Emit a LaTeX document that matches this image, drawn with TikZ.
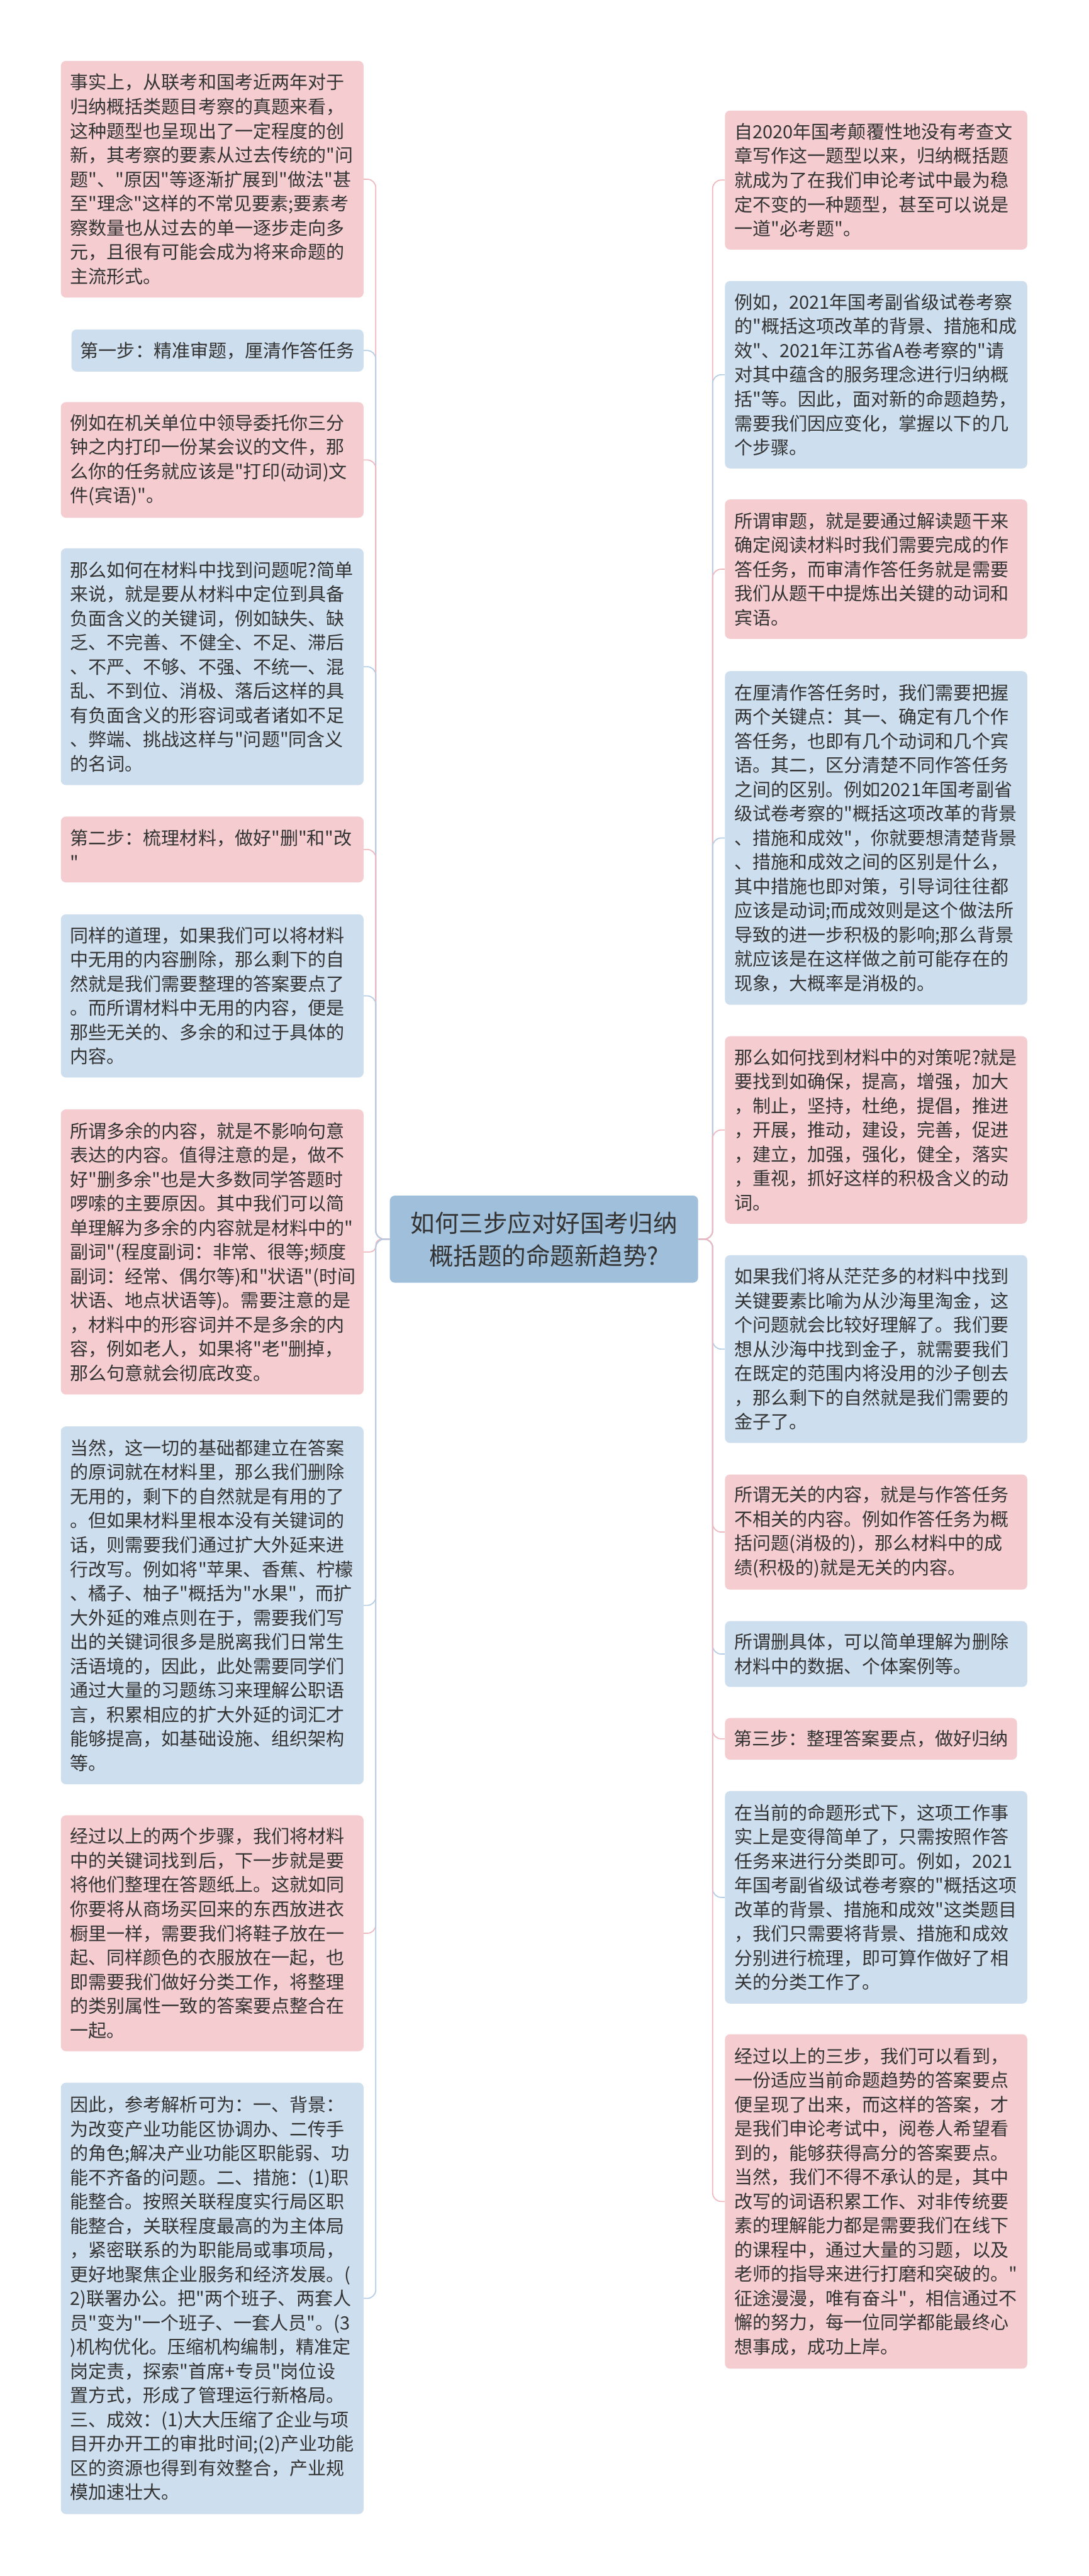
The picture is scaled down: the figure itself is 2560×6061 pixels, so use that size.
\documentclass[tikz,border=0pt]{standalone}
\usepackage{fontspec}
\newfontfamily\cjkfont{Noto Sans CJK SC}
\definecolor{pinkfill}{HTML}{F5CDD1}
\definecolor{bluefill}{HTML}{CDDEEE}
\definecolor{rootfill}{HTML}{9FBFDB}
\definecolor{pinkline}{HTML}{EFB8BE}
\definecolor{blueline}{HTML}{B4CDE6}
\definecolor{txt}{HTML}{333333}
\tikzset{
  card/.style={rectangle, rounded corners=12pt, anchor=north west, inner xsep=22pt, inner ysep=4pt,
    align=left, text=txt, font=\cjkfont\fontsize{43}{57}\selectfont},
  pinkcard/.style={card, fill=pinkfill},
  bluecard/.style={card, fill=bluefill},
  conn/.style={line width=2.5pt, rounded corners=20pt},
  pinkconn/.style={conn, draw=pinkline},
  blueconn/.style={conn, draw=blueline},
  rootbox/.style={rectangle, rounded corners=12pt, fill=rootfill, text=txt, inner sep=0pt,
    align=center, font=\cjkfont\fontsize{57}{77}\selectfont},
}
\begin{document}
\begin{tikzpicture}[x=1pt,y=-1pt]
\useasboundingbox (0,0) rectangle (2560,6061);
\fill[white] (0,0) rectangle (2560,6061);

% root
\node[rootbox, minimum width=725pt, minimum height=205pt] (root) at (1279.5,2915.5)
  {如何三步应对好国考归纳\\概括题的命题新趋势?};

% left column
\node[pinkcard, text width=668pt, minimum height=557pt] (L1) at (143,143) {事实上，从联考和国考近两年对于\\归纳概括类题目考察的真题来看，\\这种题型也呈现出了一定程度的创\\新，其考察的要素从过去传统的"问\\题"、"原因"等逐渐扩展到"做法"甚\\至"理念"这样的不常见要素;要素考\\察数量也从过去的单一逐步走向多\\元，且很有可能会成为将来命题的\\主流形式。};
\node[bluecard, inner xsep=21pt, text width=645pt, minimum height=99pt] (L2) at (168,775) {第一步：精准审题，厘清作答任务};
\node[pinkcard, text width=668pt, minimum height=272pt] (L3) at (143,946) {例如在机关单位中领导委托你三分\\钟之内打印一份某会议的文件，那\\么你的任务就应该是"打印(动词)文\\件(宾语)"。};
\node[bluecard, text width=668pt, minimum height=557pt] (L4) at (143,1290) {那么如何在材料中找到问题呢?简单\\来说，就是要从材料中定位到具备\\负面含义的关键词，例如缺失、缺\\乏、不完善、不健全、不足、滞后\\、不严、不够、不强、不统一、混\\乱、不到位、消极、落后这样的具\\有负面含义的形容词或者诸如不足\\、弊端、挑战这样与"问题"同含义\\的名词。};
\node[pinkcard, text width=668pt, minimum height=155pt] (L5) at (143,1921) {第二步：梳理材料，做好"删"和"改\\"};
\node[bluecard, text width=668pt, minimum height=384pt] (L6) at (143,2151) {同样的道理，如果我们可以将材料\\中无用的内容删除，那么剩下的自\\然就是我们需要整理的答案要点了\\。而所谓材料中无用的内容，便是\\那些无关的、多余的和过于具体的\\内容。};
\node[pinkcard, text width=668pt, minimum height=671pt] (L7) at (143,2610) {所谓多余的内容，就是不影响句意\\表达的内容。值得注意的是，做不\\好"删多余"也是大多数同学答题时\\啰嗦的主要原因。其中我们可以简\\单理解为多余的内容就是材料中的"\\副词"(程度副词：非常、很等;频度\\副词：经常、偶尔等)和"状语"(时间\\状语、地点状语等)。需要注意的是\\，材料中的形容词并不是多余的内\\容，例如老人，如果将"老"删掉，\\那么句意就会彻底改变。};
\node[bluecard, text width=668pt, minimum height=842pt] (L8) at (143,3356) {当然，这一切的基础都建立在答案\\的原词就在材料里，那么我们删除\\无用的，剩下的自然就是有用的了\\。但如果材料里根本没有关键词的\\话，则需要我们通过扩大外延来进\\行改写。例如将"苹果、香蕉、柠檬\\、橘子、柚子"概括为"水果"，而扩\\大外延的难点则在于，需要我们写\\出的关键词很多是脱离我们日常生\\活语境的，因此，此处需要同学们\\通过大量的习题练习来理解公职语\\言，积累相应的扩大外延的词汇才\\能够提高，如基础设施、组织架构\\等。};
\node[pinkcard, text width=668pt, minimum height=555pt] (L9) at (143,4271) {经过以上的两个步骤，我们将材料\\中的关键词找到后，下一步就是要\\将他们整理在答题纸上。这就如同\\你要将从商场买回来的东西放进衣\\橱里一样，需要我们将鞋子放在一\\起、同样颜色的衣服放在一起，也\\即需要我们做好分类工作，将整理\\的类别属性一致的答案要点整合在\\一起。};
\node[bluecard, text width=668pt, minimum height=1015pt] (L10) at (143,4900) {因此，参考解析可为：一、背景：\\为改变产业功能区协调办、二传手\\的角色;解决产业功能区职能弱、功\\能不齐备的问题。二、措施：(1)职\\能整合。按照关联程度实行局区职\\能整合，关联程度最高的为主体局\\，紧密联系的为职能局或事项局，\\更好地聚焦企业服务和经济发展。(\\2)联署办公。把"两个班子、两套人\\员"变为"一个班子、一套人员"。(3\\)机构优化。压缩机构编制，精准定\\岗定责，探索"首席+专员"岗位设\\置方式，形成了管理运行新格局。\\三、成效：(1)大大压缩了企业与项\\目开办开工的审批时间;(2)产业功能\\区的资源也得到有效整合，产业规\\模加速壮大。};

% right column
\node[pinkcard, text width=667pt, minimum height=327pt] (R1) at (1705,260) {自2020年国考颠覆性地没有考查文\\章写作这一题型以来，归纳概括题\\就成为了在我们申论考试中最为稳\\定不变的一种题型，甚至可以说是\\一道"必考题"。};
\node[bluecard, text width=667pt, minimum height=441pt] (R2) at (1705,661) {例如，2021年国考副省级试卷考察\\的"概括这项改革的背景、措施和成\\效"、2021年江苏省A卷考察的"请\\对其中蕴含的服务理念进行归纳概\\括"等。因此，面对新的命题趋势，\\需要我们因应变化，掌握以下的几\\个步骤。};
\node[pinkcard, text width=667pt, minimum height=328pt] (R3) at (1705,1175) {所谓审题，就是要通过解读题干来\\确定阅读材料时我们需要完成的作\\答任务，而审清作答任务就是需要\\我们从题干中提炼出关键的动词和\\宾语。};
\node[bluecard, text width=667pt, minimum height=785pt] (R4) at (1705,1579) {在厘清作答任务时，我们需要把握\\两个关键点：其一、确定有几个作\\答任务，也即有几个动词和几个宾\\语。其二，区分清楚不同作答任务\\之间的区别。例如2021年国考副省\\级试卷考察的"概括这项改革的背景\\、措施和成效"，你就要想清楚背景\\、措施和成效之间的区别是什么，\\其中措施也即对策，引导词往往都\\应该是动词;而成效则是这个做法所\\导致的进一步积极的影响;那么背景\\就应该是在这样做之前可能存在的\\现象，大概率是消极的。};
\node[pinkcard, text width=667pt, minimum height=441pt] (R5) at (1705,2438) {那么如何找到材料中的对策呢?就是\\要找到如确保，提高，增强，加大\\，制止，坚持，杜绝，提倡，推进\\，开展，推动，建设，完善，促进\\，建立，加强，强化，健全，落实\\，重视，抓好这样的积极含义的动\\词。};
\node[bluecard, text width=667pt, minimum height=442pt] (R6) at (1705,2953) {如果我们将从茫茫多的材料中找到\\关键要素比喻为从沙海里淘金，这\\个问题就会比较好理解了。我们要\\想从沙海中找到金子，就需要我们\\在既定的范围内将没用的沙子刨去\\，那么剩下的自然就是我们需要的\\金子了。};
\node[pinkcard, text width=667pt, minimum height=271pt] (R7) at (1705,3469) {所谓无关的内容，就是与作答任务\\不相关的内容。例如作答任务为概\\括问题(消极的)，那么材料中的成\\绩(积极的)就是无关的内容。};
\node[bluecard, text width=667pt, minimum height=155pt] (R8) at (1705,3814) {所谓删具体，可以简单理解为删除\\材料中的数据、个体案例等。};
\node[pinkcard, inner xsep=21pt, text width=645pt, minimum height=98pt] (R9) at (1705,4042) {第三步：整理答案要点，做好归纳};
\node[bluecard, text width=667pt, minimum height=500pt] (R10) at (1705,4214) {在当前的命题形式下，这项工作事\\实上是变得简单了，只需按照作答\\任务来进行分类即可。例如，2021\\年国考副省级试卷考察的"概括这项\\改革的背景、措施和成效"这类题目\\，我们只需要将背景、措施和成效\\分别进行梳理，即可算作做好了相\\关的分类工作了。};
\node[pinkcard, text width=667pt, minimum height=787pt] (R11) at (1705,4786) {经过以上的三步，我们可以看到，\\一份适应当前命题趋势的答案要点\\便呈现了出来，而这样的答案，才\\是我们申论考试中，阅卷人希望看\\到的，能够获得高分的答案要点。\\当然，我们不得不承认的是，其中\\改写的词语积累工作、对非传统要\\素的理解能力都是需要我们在线下\\的课程中，通过大量的习题，以及\\老师的指导来进行打磨和突破的。"\\征途漫漫，唯有奋斗"，相信通过不\\懈的努力，每一位同学都能最终心\\想事成，成功上岸。};

% connectors left
\draw[pinkconn] (root.west) -- ++(-33,0) |- (L1.east);
\draw[blueconn] (root.west) -- ++(-33,0) |- (L2.east);
\draw[pinkconn] (root.west) -- ++(-33,0) |- (L3.east);
\draw[blueconn] (root.west) -- ++(-33,0) |- (L4.east);
\draw[pinkconn] (root.west) -- ++(-33,0) |- (L5.east);
\draw[blueconn] (root.west) -- ++(-33,0) |- (L6.east);
\draw[pinkconn, rounded corners=14pt] (root.west) -- ++(-33,0) |- (L7.east);
\draw[blueconn] (root.west) -- ++(-33,0) |- (L8.east);
\draw[pinkconn] (root.west) -- ++(-33,0) |- (L9.east);
\draw[blueconn] (root.west) -- ++(-33,0) |- (L10.east);
% connectors right
\draw[pinkconn] (root.east) -- ++(34,0) |- (R1.west);
\draw[blueconn] (root.east) -- ++(34,0) |- (R2.west);
\draw[pinkconn] (root.east) -- ++(34,0) |- (R3.west);
\draw[blueconn] (root.east) -- ++(34,0) |- (R4.west);
\draw[pinkconn] (root.east) -- ++(34,0) |- (R5.west);
\draw[blueconn] (root.east) -- ++(34,0) |- (R6.west);
\draw[pinkconn] (root.east) -- ++(34,0) |- (R7.west);
\draw[blueconn] (root.east) -- ++(34,0) |- (R8.west);
\draw[pinkconn] (root.east) -- ++(34,0) |- (R9.west);
\draw[blueconn] (root.east) -- ++(34,0) |- (R10.west);
\draw[pinkconn] (root.east) -- ++(34,0) |- (R11.west);
\end{tikzpicture}
\end{document}
